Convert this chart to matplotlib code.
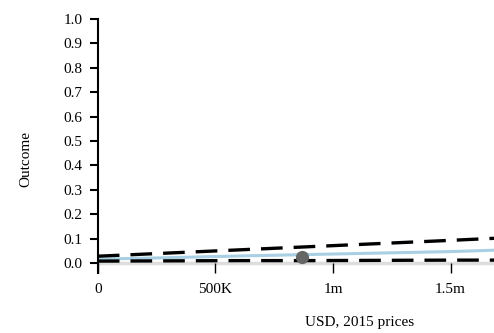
import matplotlib
matplotlib.use('Agg')
import matplotlib.pyplot as plt

cost = [0, 300000, 600000, 900000, 1200000, 1500000, 1700000]
upper = [0.028, 0.041, 0.054, 0.067, 0.080, 0.093, 0.102]
lower = [0.008, 0.009, 0.010, 0.010, 0.011, 0.012, 0.012]
mean = [0.016, 0.022, 0.029, 0.035, 0.041, 0.047, 0.053]
point_x = [868000]
point_y = [0.024]

xticks = [0, 500000, 1000000, 1500000]
xticklabels = ['0', '500K', '1m', '1.5m']
yticks = [0.0, 0.1, 0.2, 0.3, 0.4, 0.5, 0.6, 0.7, 0.8, 0.9, 1.0]

plt.rcParams['font.family'] = 'Liberation Serif'
plt.rcParams['font.size'] = 11

fig = plt.figure(figsize=(4.94, 3.33), dpi=100)
ax = fig.add_axes([0.198, 0.18, 0.802, 0.763])

ax.axhline(0, color='#dddddd', linewidth=2.5, zorder=1)
ax.plot(cost, mean, color='#a8cfe3', linewidth=2.2, zorder=2)
ax.plot(cost, upper, color='black', linewidth=2.4, dashes=[6.5, 3.3], zorder=3)
ax.plot(cost, lower, color='black', linewidth=2.4, dashes=[6.5, 3.3], zorder=3)
ax.plot(point_x, point_y, 'o', color='#666666', markersize=8.5, zorder=4)

ax.set_xlim(0, 1685000)
ax.set_ylim(-0.041, 1.0)
ax.set_xticks(xticks)
ax.set_xticklabels(xticklabels)
ax.set_yticks(yticks)
ax.set_yticklabels(['%.1f' % v for v in yticks])

for s in ['top', 'right', 'bottom']:
    ax.spines[s].set_visible(False)
ax.spines['left'].set_linewidth(1.5)
ax.tick_params(axis='y', direction='out', length=6, width=1.5, pad=5)
ax.tick_params(axis='x', direction='in', length=7, width=1, pad=7)

ax.set_ylabel('Outcome')
ax.yaxis.set_label_coords(-0.165, 0.45)
ax.set_xlabel('USD, 2015 prices')
ax.xaxis.set_label_coords(0.66, -0.17)

fig.savefig('out.png', dpi=100)
